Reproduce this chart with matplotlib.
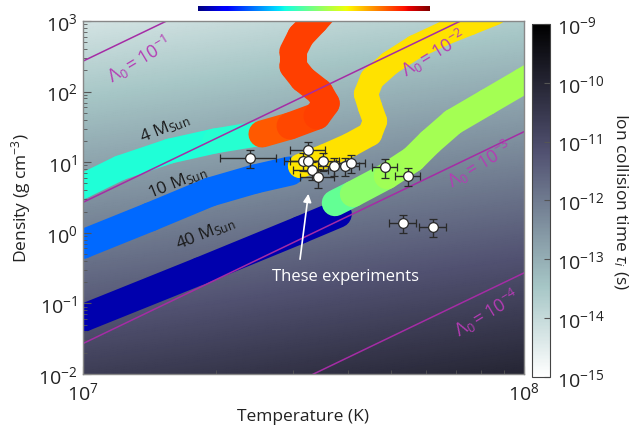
import numpy as np
import matplotlib
matplotlib.use('Agg')
import matplotlib.pyplot as plt
from matplotlib.colors import LogNorm
from matplotlib.collections import LineCollection
from matplotlib.ticker import NullFormatter
import matplotlib.cm as cm

plt.rcParams['font.family'] = ['Open Sans', 'DejaVu Sans']
plt.rcParams['mathtext.fontset'] = 'custom'
plt.rcParams['mathtext.rm'] = 'Open Sans'
plt.rcParams['mathtext.it'] = 'Open Sans:italic'
plt.rcParams['mathtext.bf'] = 'Open Sans:bold'

# ---------------- data ----------------
# experimental points (T in 1e7 K, density in g/cm^3)
exp_T = np.array([2.39, 3.24, 3.16, 3.24, 3.50, 3.30, 3.41, 3.71, 3.93, 4.05, 4.84, 5.46, 5.32, 6.22])
exp_rho = np.array([11.5, 14.9, 10.4, 10.4, 10.4, 7.76, 6.17, 8.8, 8.8, 9.75, 8.55, 6.38, 1.38, 1.21])
exp_Terr = np.array([0.35, 0.30, 0.30, 0.30, 0.30, 0.30, 0.30, 0.30, 0.30, 0.30, 0.31, 0.36, 0.37, 0.43])
exp_rhoerr = np.array([3.3, 4.3, 3.0, 3.0, 3.0, 2.2, 1.8, 2.5, 2.5, 2.8, 2.5, 1.8, 0.40, 0.35])

# stellar tracks (T in 1e7 K, rho in g/cm^3, c = evolutionary colour index on jet scale)
m4a_T = [0.97, 1.0, 1.213, 1.575, 1.992, 2.481]
m4a_rho = [4.3, 4.6, 8.3, 14.4, 20.0, 25.1]
m4a_c = [0.39, 0.39, 0.39, 0.39, 0.39, 0.40]
m4b_T = [2.546, 2.948, 3.393, 3.56, 3.44, 3.155, 2.99, 2.99, 3.12, 3.36, 3.52]
m4b_rho = [25.1, 32.6, 45.1, 68.0, 98.7, 150.8, 230.5, 364, 614, 1000, 1387]
m4b_c = [0.80, 0.83, 0.84, 0.84, 0.84, 0.84, 0.84, 0.84, 0.84, 0.84, 0.84]

m10a_T = [0.97, 1.0, 1.419, 1.941, 2.455, 2.948]
m10a_rho = [0.66, 0.694, 1.674, 3.78, 5.78, 7.50]
m10a_c = [0.23, 0.23, 0.23, 0.23, 0.23, 0.23]
m10b_T = [3.105, 3.539, 4.03, 4.476, 4.594, 4.476, 4.383, 4.522, 4.967, 5.66, 6.62, 7.55, 8.6]
m10b_rho = [8.83, 12.2, 17.5, 25.1, 38.3, 60.5, 92.5, 150.8, 254, 428, 676, 937, 1298]
m10b_c = [0.66, 0.67, 0.67, 0.67, 0.67, 0.67, 0.67, 0.67, 0.67, 0.67, 0.67, 0.67, 0.67]

m40a_T = [0.97, 1.0, 1.842, 3.105, 3.786]
m40a_rho = [0.058, 0.0621, 0.2877, 1.096, 1.846]
m40a_c = [0.04, 0.04, 0.04, 0.04, 0.04]
m40b_T = [3.727, 4.095, 4.89, 5.6, 6.12, 6.9, 8.25, 9.95, 10.87]
m40b_rho = [2.64, 3.55, 6.38, 11.1, 19.3, 37.1, 71.2, 141, 196]
m40b_c = [0.44, 0.50, 0.54, 0.55, 0.55, 0.55, 0.55, 0.55, 0.55]

# coupling-parameter lines: rho = rho_ref * Lambda^2 * (T/1e7)^3
lam_values = [1e-1, 1e-2, 1e-3, 1e-4]
lam_labels = ['$\\mathit{\\Lambda}_0 = 10^{-1}$', '$\\mathit{\\Lambda}_0 = 10^{-2}$',
              '$\\mathit{\\Lambda}_0 = 10^{-3}$', '$\\mathit{\\Lambda}_0 = 10^{-4}$']
lam_rho_ref = 2.7e4

# background field: ion collision time
bg_log_tau0 = -14.25
bg_T_exp = 0.65
bg_rho_exp = 0.72

cb_ticks = [1e-9, 1e-10, 1e-11, 1e-12, 1e-13, 1e-14, 1e-15]

# ---------------- figure ----------------
fig = plt.figure(figsize=(6.29, 4.27), dpi=100)
ax = fig.add_axes([0.132, 0.1218, 0.701, 0.8267])
ax.set_xscale('log')
ax.set_yscale('log')
ax.set_xlim(1e7, 1e8)
ax.set_ylim(1e-2, 1e3)

Tg = np.logspace(7, 8, 200)
Rg = np.logspace(-2, 3, 300)
TT, RR = np.meshgrid(Tg, Rg)
tau = 10 ** (bg_log_tau0 + bg_T_exp * np.log10(TT / 1e7) - bg_rho_exp * np.log10(RR / 1e3))
norm = LogNorm(1e-15, 1e-9)
cmap = plt.get_cmap('bone_r')
ax.pcolormesh(TT, RR, tau, cmap=cmap, norm=norm, shading='gouraud', rasterized=True, zorder=0)

jet = plt.get_cmap('jet')


def draw_track(T, rho, c, lw, z):
    T = np.asarray(T) * 1e7
    rho = np.asarray(rho)
    c = np.asarray(c)
    pts = np.column_stack([T, rho])
    segs = [pts[i:i + 2] for i in range(len(pts) - 1)]
    cols = [jet(0.5 * (c[i] + c[i + 1])) for i in range(len(pts) - 1)]
    lc = LineCollection(segs, colors=cols, linewidths=lw, capstyle='round',
                        joinstyle='round', zorder=z)
    ax.add_collection(lc)


draw_track(m40a_T, m40a_rho, m40a_c, 20, 1)
draw_track(m10a_T, m10a_rho, m10a_c, 21, 1.1)
draw_track(m4a_T, m4a_rho, m4a_c, 18, 1.2)
draw_track(m40b_T, m40b_rho, m40b_c, 19, 1.3)
draw_track(m10b_T, m10b_rho, m10b_c, 17.5, 1.4)
draw_track(m4b_T, m4b_rho, m4b_c, 19.5, 1.5)

T_line = np.array([1e7, 1e8])
for L in lam_values:
    ax.plot(T_line, lam_rho_ref * L ** 2 * (T_line / 1e7) ** 3, color='#a52ca5', lw=1.1, zorder=2)

lam_pos = [(1.34e7, 290), (6.25e7, 360), (7.95e7, 9.4), (8.25e7, 0.075)]
for (x, y), lab in zip(lam_pos, lam_labels):
    ax.text(x, y, lab, color='#b43cb4', fontsize=13, rotation=31, ha='center', va='center', zorder=5)

ax.errorbar(exp_T * 1e7, exp_rho, xerr=exp_Terr * 1e7, yerr=exp_rhoerr, fmt='o',
            ms=7, mfc='white', mec='#2a2a2a', mew=0.9, ecolor='#2a2a2a', elinewidth=1,
            capsize=3, capthick=1, zorder=4)

ax.text(1.53e7, 31.5, '4 M$_{\\rm Sun}$', fontsize=12.5, color='#1a1a1a', rotation=22,
        ha='center', va='center', zorder=5)
ax.text(1.64e7, 5.25, '10 M$_{\\rm Sun}$', fontsize=12.5, color='#1a1a1a', rotation=22,
        ha='center', va='center', zorder=5)
ax.text(1.90e7, 1.0, '40 M$_{\\rm Sun}$', fontsize=12.5, color='#1a1a1a', rotation=22,
        ha='center', va='center', zorder=5)

ax.annotate('', xy=(3.25e7, 3.9), xytext=(3.10e7, 0.386),
            arrowprops=dict(arrowstyle='-|>', color='white', lw=1.2, mutation_scale=12), zorder=5)
ax.text(3.94e7, 0.244, 'These experiments', color='white', fontsize=12, ha='center', va='center', zorder=5)

ax.set_xlabel('Temperature (K)', fontsize=12.5, color='#222222')
ax.set_ylabel('Density (g cm$^{-3}$)', fontsize=12.5, color='#222222')
ax.xaxis.set_minor_formatter(NullFormatter())
ax.yaxis.set_minor_formatter(NullFormatter())
ax.tick_params(which='both', direction='in', colors='#555555', labelcolor='#222222', labelsize=14)
ax.tick_params(which='major', length=6, pad=4)
ax.tick_params(which='minor', length=3)
ax.tick_params(axis='x', which='major', pad=5)
for s in ax.spines.values():
    s.set_color('#888888')
    s.set_linewidth(1)

cax = fig.add_axes([0.8458, 0.1148, 0.0286, 0.8267])
sm = cm.ScalarMappable(norm=norm, cmap=cmap)
cb = fig.colorbar(sm, cax=cax)
cb.set_ticks(cb_ticks)
cb.ax.minorticks_off()
cb.ax.tick_params(direction='in', length=4, labelsize=14, colors='#555555', labelcolor='#222222', pad=5)
cb.outline.set_edgecolor('#444444')
cb.set_label('Ion collision time $\\tau_i$ (s)', rotation=270, fontsize=12.5, labelpad=18, color='#222222')

tax = fig.add_axes([0.3148, 0.9719, 0.3688, 0.0117])
tax.imshow(np.linspace(0, 1, 256)[None, :], aspect='auto', cmap='jet')
tax.axis('off')

fig.savefig('out.png', dpi=100)
